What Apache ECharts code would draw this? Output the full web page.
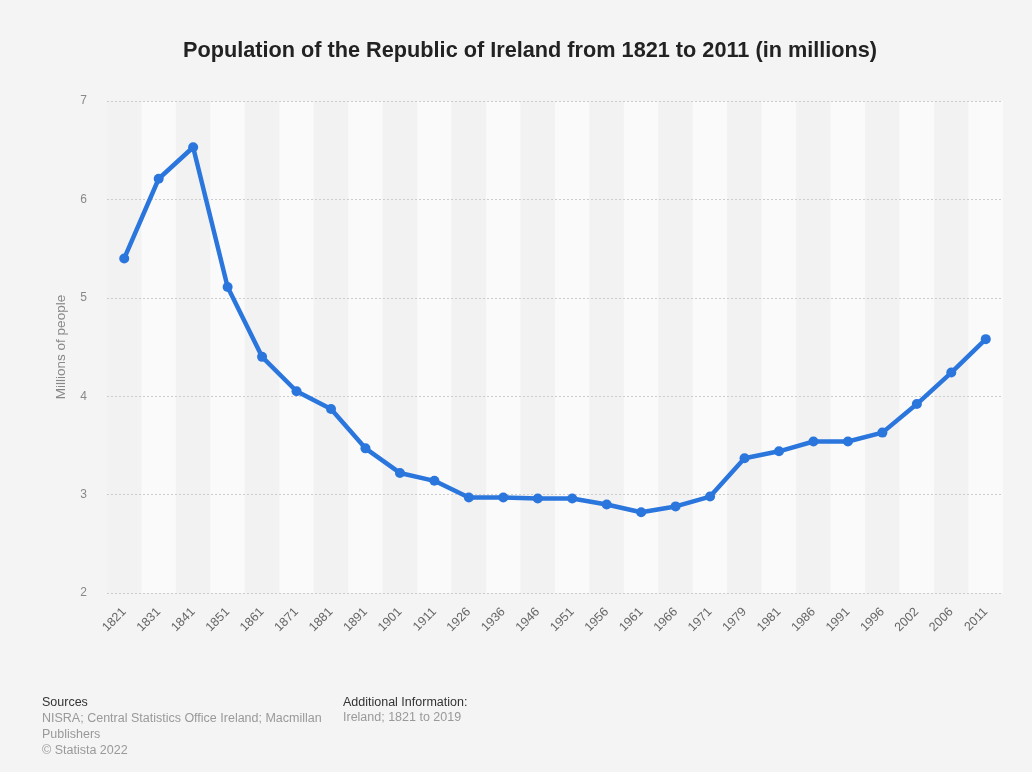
<!DOCTYPE html>
<html><head><meta charset="utf-8">
<script src="https://cdn.jsdelivr.net/npm/echarts@6/dist/echarts.min.js"></script>
<style>html,body{margin:0;padding:0;background:#f4f4f4;}#c{width:1032px;height:772px;}</style>
</head><body><div id="c"></div>
<script>
const years = ['1821','1831','1841','1851','1861','1871','1881','1891','1901','1911','1926','1936','1946','1951','1956','1961','1966','1971','1979','1981','1986','1991','1996','2002','2006','2011'];
const population = [5.40,6.21,6.53,5.11,4.40,4.05,3.87,3.47,3.22,3.14,2.97,2.97,2.96,2.96,2.90,2.82,2.88,2.98,3.37,3.44,3.54,3.54,3.63,3.92,4.24,4.58];
const yTicks = [2,3,4,5,6,7];

const F = 'Liberation Sans, Arial, sans-serif';
const chart = echarts.init(document.getElementById('c'));
chart.setOption({
  backgroundColor:'#f4f4f4',
  animation:false,
  title:{text:'Population of the Republic of Ireland from 1821 to 2011 (in millions)',left:178,top:35,
    textStyle:{fontFamily:F,fontSize:21.7,fontWeight:'bold',color:'#222'}},
  grid:{left:107,right:29,top:101,bottom:179},
  xAxis:{type:'category',data:years,boundaryGap:true,z:0,
    axisLine:{show:false},axisTick:{show:false},
    axisLabel:{rotate:45,color:'#666',fontSize:12.5,fontFamily:F,margin:17,interval:0},
    splitArea:{show:true,interval:0,areaStyle:{color:['#f2f2f2','#fafafa']}}},
  yAxis:{type:'value',min:yTicks[0],max:yTicks[yTicks.length-1],interval:1,z:2,
    name:'Millions of people',nameLocation:'middle',nameGap:39,
    nameTextStyle:{color:'#888',fontSize:13.5,fontFamily:F},
    axisLine:{show:false},axisTick:{show:false},
    axisLabel:{color:'#888',fontSize:12,fontFamily:F,margin:20},
    splitLine:{lineStyle:{color:'#cccccc',type:[2,2],width:1}}},
  series:[{type:'line',data:population,symbol:'circle',symbolSize:10,z:3,
    lineStyle:{color:'#2a76dd',width:4.5},itemStyle:{color:'#2a76dd'}}],
  graphic:[
    {type:'text',left:42,top:696,style:{text:'Sources',fill:'#333',fontSize:12.5,fontFamily:F}},
    {type:'text',left:42,top:711,style:{text:'NISRA; Central Statistics Office Ireland; Macmillan\nPublishers\n© Statista 2022',fill:'#999',fontSize:12.5,lineHeight:16,fontFamily:F}},
    {type:'text',left:343,top:696,style:{text:'Additional Information:',fill:'#333',fontSize:12.5,fontFamily:F}},
    {type:'text',left:343,top:711,style:{text:'Ireland; 1821 to 2019',fill:'#999',fontSize:12.5,fontFamily:F}}
  ]
});
</script></body></html>
